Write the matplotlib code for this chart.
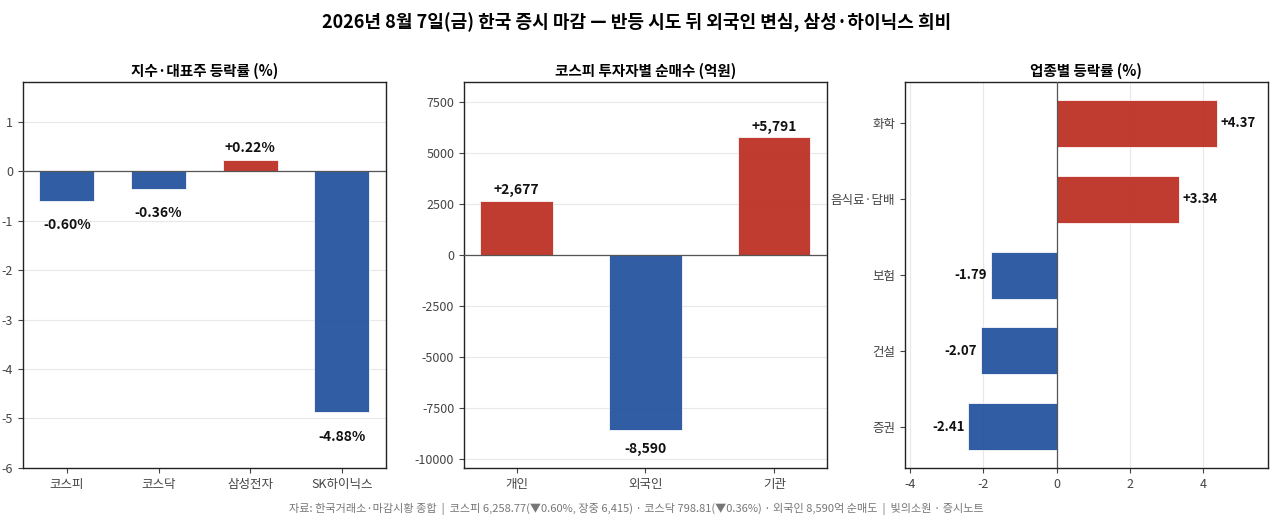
import numpy as np
import matplotlib.pyplot as plt

plt.rcParams['font.family'] = ['Noto Sans CJK KR', 'DejaVu Sans']
plt.rcParams['axes.unicode_minus'] = False

RED = '#bb2a1e'
BLUE = '#1f4f9c'

# 지수·대표주 등락률
idx_names = ['코스피', '코스닥', '삼성전자', 'SK하이닉스']
idx_chg = [-0.60, -0.36, 0.22, -4.88]

# 투자자별 순매수 (억원)
inv_names = ['개인', '외국인', '기관']
inv_net = [2677, -8590, 5791]

# 업종별 등락률
sec_names = ['화학', '음식료·담배', '보험', '건설', '증권']
sec_chg = [4.37, 3.34, -1.79, -2.07, -2.41]

fig, axes = plt.subplots(1, 3, figsize=(12.73, 5.21), dpi=100)
fig.subplots_adjust(left=0.018, right=0.996, top=0.842, bottom=0.102, wspace=0.215)

fig.suptitle('2026년 8월 7일(금) 한국 증시 마감 — 반등 시도 뒤 외국인 변심, 삼성·하이닉스 희비',
             fontsize=13, fontweight='bold', y=0.975)


def style(ax, axis):
    ax.grid(axis=axis, color='#e8e8e8', linewidth=0.8, zorder=0)
    ax.set_axisbelow(True)
    ax.tick_params(labelsize=9, labelcolor='#444444', colors='#444444')
    for s in ax.spines.values():
        s.set_color('#222222')
        s.set_linewidth(1.0)


# 1) 지수·대표주
ax = axes[0]
cols = [RED if v > 0 else BLUE for v in idx_chg]
ax.bar(idx_names, idx_chg, width=0.6, color=cols, edgecolor='white', linewidth=0.6, alpha=0.92, zorder=2)
ax.axhline(0, color='#555555', linewidth=0.9, zorder=4)
ax.set_ylim(-6, 1.8)
ax.set_yticks(np.arange(-6, 2, 1))
for i, v in enumerate(idx_chg):
    y = v + 0.26 if v > 0 else v - 0.49
    ax.text(i, y, f'{v:+.2f}%' if v > 0 else f'{v:.2f}%', ha='center', va='center',
            fontsize=10, fontweight='bold', color='#111111', zorder=5)
ax.set_title('지수·대표주 등락률 (%)', fontsize=10.5, fontweight='bold', pad=5)
style(ax, 'y')

# 2) 투자자별 순매수
ax = axes[1]
cols = [RED if v > 0 else BLUE for v in inv_net]
ax.bar(inv_names, inv_net, width=0.56, color=cols, edgecolor='white', linewidth=0.6, alpha=0.92, zorder=2)
ax.axhline(0, color='#555555', linewidth=0.9, zorder=4)
ax.set_ylim(-10450, 8480)
ax.set_yticks(np.arange(-10000, 7501, 2500))
for i, v in enumerate(inv_net):
    y = v + 500 if v > 0 else v - 930
    ax.text(i, y, f'{v:+,}', ha='center', va='center',
            fontsize=10, fontweight='bold', color='#111111', zorder=5)
ax.set_title('코스피 투자자별 순매수 (억원)', fontsize=10.5, fontweight='bold', pad=5)
style(ax, 'y')

# 3) 업종별 등락률
ax = axes[2]
ypos = np.arange(len(sec_names))[::-1]
cols = [RED if v > 0 else BLUE for v in sec_chg]
ax.barh(ypos, sec_chg, height=0.62, color=cols, edgecolor='white', linewidth=0.6, alpha=0.92, zorder=2)
ax.axvline(0, color='#555555', linewidth=0.9, zorder=4)
ax.set_yticks(ypos)
ax.set_yticklabels(sec_names)
ax.set_xlim(-4.14, 5.77)
ax.set_xticks([-4, -2, 0, 2, 4])
for y, v in zip(ypos, sec_chg):
    if v > 0:
        ax.text(v + 0.1, y, f'{v:+.2f}', ha='left', va='center', fontsize=9.5,
                fontweight='bold', color='#111111', zorder=5)
    else:
        ax.text(v - 0.1, y, f'{v:.2f}', ha='right', va='center', fontsize=9.5,
                fontweight='bold', color='#111111', zorder=5)
ax.set_title('업종별 등락률 (%)', fontsize=10.5, fontweight='bold', pad=5)
style(ax, 'x')

fig.text(0.5, 0.012,
         '자료: 한국거래소·마감시황 종합  |  코스피 6,258.77(▼0.60%, 장중 6,415) · 코스닥 798.81(▼0.36%) · 외국인 8,590억 순매도  |  빛의소원 · 증시노트',
         ha='center', va='bottom', fontsize=8, color='#777777',
         family=['Noto Sans CJK KR', 'DejaVu Sans'])

fig.savefig('out.png', dpi=100)
